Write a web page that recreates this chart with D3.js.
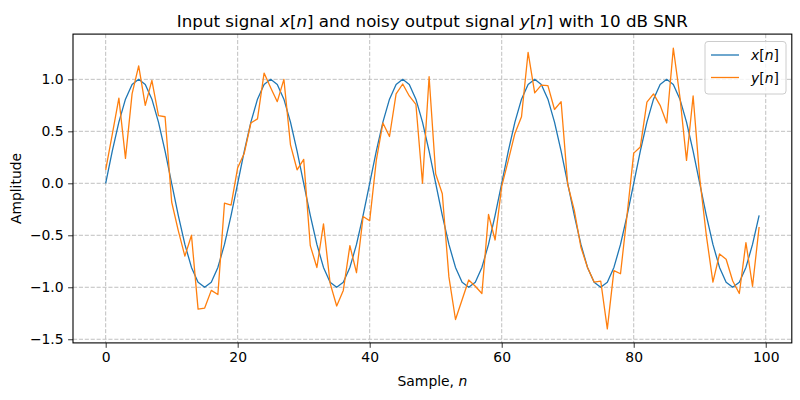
<!DOCTYPE html>
<html>
<head>
<meta charset="utf-8">
<script src="https://cdn.jsdelivr.net/npm/d3@7"></script>
<style>
  html, body { margin: 0; padding: 0; background: #fff; }
  svg { display: block; font-family: "DejaVu Sans", sans-serif; }
</style>
</head>
<body>
<svg id="chart" width="800" height="400"></svg>
<script>
// Input signal x[n]
const xSignal = [
  0.0000, 0.3090, 0.5878, 0.8090, 0.9511, 1.0000, 0.9511, 0.8090, 0.5878, 0.3090,
  0.0000, -0.3090, -0.5878, -0.8090, -0.9511, -1.0000, -0.9511, -0.8090, -0.5878, -0.3090,
  0.0000, 0.3090, 0.5878, 0.8090, 0.9511, 1.0000, 0.9511, 0.8090, 0.5878, 0.3090,
  0.0000, -0.3090, -0.5878, -0.8090, -0.9511, -1.0000, -0.9511, -0.8090, -0.5878, -0.3090,
  0.0000, 0.3090, 0.5878, 0.8090, 0.9511, 1.0000, 0.9511, 0.8090, 0.5878, 0.3090,
  0.0000, -0.3090, -0.5878, -0.8090, -0.9511, -1.0000, -0.9511, -0.8090, -0.5878, -0.3090,
  0.0000, 0.3090, 0.5878, 0.8090, 0.9511, 1.0000, 0.9511, 0.8090, 0.5878, 0.3090,
  0.0000, -0.3090, -0.5878, -0.8090, -0.9511, -1.0000, -0.9511, -0.8090, -0.5878, -0.3090,
  0.0000, 0.3090, 0.5878, 0.8090, 0.9511, 1.0000, 0.9511, 0.8090, 0.5878, 0.3090,
  0.0000, -0.3090, -0.5878, -0.8090, -0.9511, -1.0000, -0.9511, -0.8090, -0.5878, -0.3090
];
// Noisy output y[n]
const ySignal = [
  0.13, 0.47, 0.82, 0.24, 0.86, 1.13, 0.75, 0.99, 0.65, 0.64,
  -0.18, -0.455, -0.70, -0.50, -1.21, -1.20, -1.03, -1.07, -0.19, -0.21,
  0.15, 0.29, 0.58, 0.62, 1.06, 0.92, 0.785, 1.00, 0.37, 0.13,
  0.23, -0.60, -0.81, -0.39, -0.96, -1.18, -1.03, -0.60, -0.86, -0.32,
  -0.36, 0.22, 0.58, 0.45, 0.86, 0.955, 0.84, 0.76, 0.00, 1.025,
  0.09, -0.10, -0.90, -1.31, -1.12, -0.93, -0.99, -1.06, -0.30, -0.545,
  -0.03, 0.22, 0.48, 0.64, 1.26, 0.87, 0.945, 0.94, 0.71, 0.785,
  -0.01, -0.26, -0.615, -0.81, -0.95, -0.94, -1.40, -0.84, -0.87, -0.30,
  0.29, 0.35, 0.78, 0.86, 0.75, 0.58, 1.30, 0.83, 0.22, 0.84,
  0.05, -0.50, -0.95, -0.68, -0.73, -0.94, -1.06, -0.57, -0.99, -0.42
];
const xTicks = [0, 20, 40, 60, 80, 100];
const yTicks = [-1.5, -1.0, -0.5, 0.0, 0.5, 1.0];
const seriesNames = ["x", "y"];
const seriesColors = ["#1f77b4", "#ff7f0e"];

const W = 800, H = 400;
const margin = { left: 73, right: 8.2, top: 34.1, bottom: 57.1 };
const iw = W - margin.left - margin.right;
const ih = H - margin.top - margin.bottom;

const samples = xSignal.map((_, i) => i);
const nMin = d3.min(samples), nMax = d3.max(samples);
const nPad = (nMax - nMin) * 0.05;
const allY = xSignal.concat(ySignal);
const yMin = d3.min(allY), yMax = d3.max(allY);
const yPad = (yMax - yMin) * 0.05;

const x = d3.scaleLinear().domain([nMin - nPad, nMax + nPad]).range([0, iw]);
const y = d3.scaleLinear().domain([yMin - yPad, yMax + yPad]).range([ih, 0]);

const svg = d3.select("#chart");
svg.append("rect").attr("width", W).attr("height", H).attr("fill", "#fff");
const g = svg.append("g").attr("transform", `translate(${margin.left},${margin.top})`);

// grid
const grid = g.append("g");
grid.selectAll("line.gx").data(xTicks).join("line")
  .attr("x1", d => x(d)).attr("x2", d => x(d)).attr("y1", 0).attr("y2", ih)
  .attr("stroke", "#b0b0b0").attr("stroke-width", 0.8).attr("stroke-dasharray", "4.1,1.8");
grid.selectAll("line.gy").data(yTicks).join("line")
  .attr("y1", d => y(d)).attr("y2", d => y(d)).attr("x1", 0).attr("x2", iw)
  .attr("stroke", "#b0b0b0").attr("stroke-width", 0.8).attr("stroke-dasharray", "4.1,1.8");

// lines
const line = d3.line().x((d, i) => x(samples[i])).y(d => y(d));
const seriesData = [xSignal, ySignal];
g.selectAll("path.series").data(seriesData).join("path")
  .attr("class", "series")
  .attr("d", d => line(d))
  .attr("fill", "none")
  .attr("stroke", (d, i) => seriesColors[i])
  .attr("stroke-width", 1.3)
  .attr("stroke-linejoin", "round");

// axes
const xAxis = g.append("g").attr("transform", `translate(0,${ih})`)
  .call(d3.axisBottom(x).tickValues(xTicks).tickFormat(d3.format("d")).tickSize(4.9).tickPadding(4.5));
const yAxis = g.append("g")
  .call(d3.axisLeft(y).tickValues(yTicks).tickFormat(d3.format(".1f")).tickSize(4.9).tickPadding(4.5));
[xAxis, yAxis].forEach(a => {
  a.select(".domain").remove();
  a.selectAll(".tick line").attr("stroke", "#000").attr("stroke-width", 0.8);
  a.selectAll(".tick text").attr("font-family", "DejaVu Sans").attr("font-size", 13.9).attr("fill", "#000");
});

// frame
g.append("rect").attr("x", 0).attr("y", 0).attr("width", iw).attr("height", ih)
  .attr("fill", "none").attr("stroke", "#000").attr("stroke-width", 1.1);

// math-style label helper: "v[n]" with italic v and n
function mathLabel(sel, v) {
  sel.append("tspan").attr("font-style", "italic").text(v);
  sel.append("tspan").text("[");
  sel.append("tspan").attr("font-style", "italic").text("n");
  sel.append("tspan").text("]");
}

// title
const title = svg.append("text")
  .attr("x", margin.left + iw / 2).attr("y", 26.5)
  .attr("text-anchor", "middle").attr("font-size", 16.7).attr("fill", "#000");
title.append("tspan").text("Input signal ");
mathLabel(title, "x");
title.append("tspan").text(" and noisy output signal ");
mathLabel(title, "y");
title.append("tspan").text(" with 10 dB SNR");

// x label
const xl = svg.append("text")
  .attr("x", margin.left + iw / 2).attr("y", 385.5)
  .attr("text-anchor", "middle").attr("font-size", 13.9).attr("fill", "#000");
xl.append("tspan").text("Sample, ");
xl.append("tspan").attr("font-style", "italic").text("n");

// y label
svg.append("text")
  .attr("transform", `translate(20.5,${margin.top + ih / 2}) rotate(-90)`)
  .attr("text-anchor", "middle").attr("font-size", 13.9).attr("fill", "#000")
  .text("Amplitude");

// legend
const lg = svg.append("g").attr("transform", "translate(705,41.5)");
lg.append("rect").attr("width", 81).attr("height", 52.5).attr("rx", 3)
  .attr("fill", "#fff").attr("fill-opacity", 0.8).attr("stroke", "#cccccc").attr("stroke-width", 1);
const items = lg.selectAll("g.item").data(seriesNames).join("g")
  .attr("class", "item").attr("transform", (d, i) => `translate(0,${13.5 + i * 22.5})`);
items.append("line").attr("x1", 6).attr("x2", 34).attr("y1", 0).attr("y2", 0)
  .attr("stroke", (d, i) => seriesColors[i]).attr("stroke-width", 1.3);
items.each(function(d) {
  const t = d3.select(this).append("text").attr("x", 46).attr("y", 5)
    .attr("font-size", 13.9).attr("fill", "#000");
  mathLabel(t, d);
});
</script>
</body>
</html>
